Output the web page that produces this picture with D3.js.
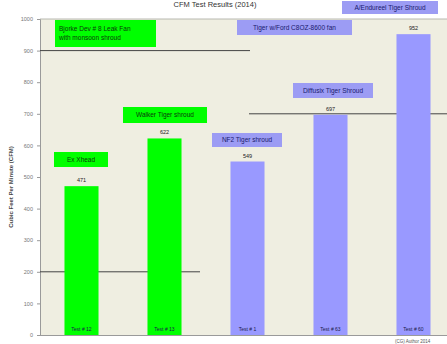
<!DOCTYPE html>
<html><head><meta charset="utf-8">
<script src="https://cdn.jsdelivr.net/npm/d3@7"></script>
<style>body{margin:0;background:#fff;overflow:hidden}svg{display:block}text{font-family:"Liberation Sans",Arial,sans-serif}</style>
</head><body>
<script>
const categories = ["Test # 12","Test # 13","Test # 1","Test # 63","Test # 60"];
const values = [471, 622, 549, 697, 952];
const seriesGroup = ["green","green","blue","blue","blue"];
const yTicks = [0,100,200,300,400,500,600,700,800,900,1000];
const noteTexts = [["Bjorke Dev # 8 Leak Fan","with monsoon shroud"],["Ex Xhead"],["Walker Tiger shroud"],["NF2 Tiger shroud"],["Diffusix Tiger Shroud"],["Tiger w/Ford C8OZ-8600 fan"],["A/Endureel Tiger Shroud"]];
const noteGroup = ["green","green","green","blue","blue","blue","blue"];
const refValues = [900, 200, 700];

// layout (pixels)
const W = 447, H = 344;
const noteBoxes = [[55,20,101,27],[54,152,54,15],[123,107,84,16],[212,133,70,14],[293,83,80,15],[237,20,115,15],[342,1,96,13]];
const refExtents = [[40,250],[40,200],[249,447]];
const colors = {green:"#00ff00", blue:"#9999ff"};
const noteFill = {green:"#00ff00", blue:"#9c9cf4"};
const noteInk = {green:"#0b3a0b", blue:"#1a1a6e"};

const svg = d3.select("body").append("svg").attr("width",W).attr("height",H);
const x = d3.scaleBand().domain(categories).range([40,455]).paddingInner(0.59).paddingOuter(0.295);
const y = d3.scaleLinear().domain([0,1000]).range([335,19]);

// plot background
svg.append("rect").attr("x",40).attr("y",y(1000)).attr("width",W-40).attr("height",y(0)-y(1000)).attr("fill","#efeee1");
svg.append("line").attr("x1",40).attr("x2",W).attr("y1",y(1000)).attr("y2",y(1000)).attr("stroke","#b8b8b0").attr("stroke-width",1);

// title
svg.append("text").attr("x",215).attr("y",7).attr("text-anchor","middle").attr("font-size",7.5).attr("fill","#333")
  .text("CFM Test Results (2014)");

// y axis
const ya = svg.append("g").attr("transform","translate(40,0)").call(d3.axisLeft(y).tickValues(yTicks).tickFormat(d3.format("d")).tickSize(3).tickPadding(4));
ya.select(".domain").attr("stroke","#9a9a9a");
ya.selectAll(".tick line").attr("stroke","#9a9a9a");
ya.selectAll(".tick text").attr("font-size",5.5).attr("fill","#777").attr("font-family","Liberation Sans, Arial, sans-serif");
svg.append("text").attr("transform","translate(13,"+((y(0)+y(1000))/2+10)+") rotate(-90)").attr("text-anchor","middle")
  .attr("font-size",6).attr("font-weight","bold").attr("fill","#444").text("Cubic Feet Per Minute (CFM)");

// x axis line
svg.append("line").attr("x1",40).attr("x2",W).attr("y1",y(0)+0.5).attr("y2",y(0)+0.5).attr("stroke","#9a9a9a");

// reference lines
svg.selectAll(".ref").data(refValues).join("line").attr("class","ref")
  .attr("x1",(d,i)=>refExtents[i][0]).attr("x2",(d,i)=>refExtents[i][1])
  .attr("y1",d=>y(d)).attr("y2",d=>y(d)).attr("stroke","#444").attr("stroke-width",1);

// bars
svg.selectAll(".bar").data(values).join("rect").attr("class","bar")
  .attr("x",(d,i)=>x(categories[i])).attr("width",x.bandwidth())
  .attr("y",d=>y(d)).attr("height",d=>y(0)-y(d))
  .attr("fill",(d,i)=>colors[seriesGroup[i]]);

// value labels
svg.selectAll(".val").data(values).join("text").attr("class","val")
  .attr("x",(d,i)=>x(categories[i])+x.bandwidth()/2).attr("y",d=>y(d)-4)
  .attr("text-anchor","middle").attr("font-size",5.5).attr("fill","#222").text(d=>d);

// category labels inside bars
svg.selectAll(".cat").data(categories).join("text").attr("class","cat")
  .attr("x",d=>x(d)+x.bandwidth()/2).attr("y",331)
  .attr("text-anchor","middle").attr("font-size",5).attr("fill","#1a1a4a").text(d=>d);

// annotation boxes
const notes = svg.selectAll(".note").data(noteTexts).join("g").attr("class","note");
notes.append("rect").attr("x",(d,i)=>noteBoxes[i][0]).attr("y",(d,i)=>noteBoxes[i][1])
  .attr("width",(d,i)=>noteBoxes[i][2]).attr("height",(d,i)=>noteBoxes[i][3])
  .attr("fill",(d,i)=>noteFill[noteGroup[i]]);
notes.each(function(lines,i){
  const b = noteBoxes[i];
  const g = d3.select(this);
  const lh = 9;
  const startY = b[1] + b[3]/2 - (lines.length-1)*lh/2 + 2.2;
  lines.forEach((t,k)=>{
    g.append("text").attr("x", lines.length>1 ? b[0]+4 : b[0]+b[2]/2).attr("y",startY+k*lh)
      .attr("text-anchor", lines.length>1 ? "start":"middle")
      .attr("font-size",6.5).attr("fill",noteInk[noteGroup[i]]).text(t);
  });
});

// footer
svg.append("text").attr("x",395).attr("y",343).attr("font-size",4.5).attr("fill","#555").text("(CG) Author 2014");
</script>
</body></html>
